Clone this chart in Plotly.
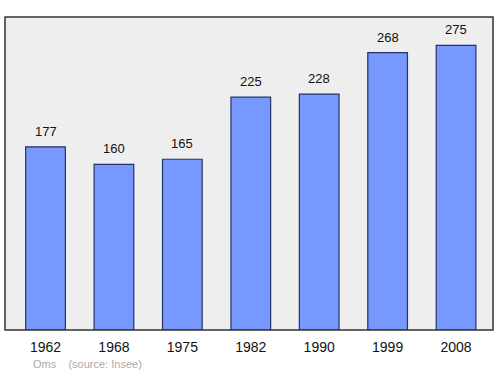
import plotly.graph_objects as go

years = ["1962", "1968", "1975", "1982", "1990", "1999", "2008"]
population = [177, 160, 165, 225, 228, 268, 275]
footer = "Oms    (source: Insee)"

xpos = list(range(len(years)))

fig = go.Figure()
fig.add_trace(go.Bar(
    x=xpos, y=population, width=0.58,
    marker=dict(color="#7799ff", line=dict(color="#223366", width=1.2)),
    hoverinfo="skip",
))
for xi, v in zip(xpos, population):
    fig.add_annotation(x=xi, y=v, text=str(v), showarrow=False, yanchor="bottom",
                       yshift=6, font=dict(family="Liberation Sans, Arial", size=13, color="#111"))

fig.add_annotation(xref="paper", yref="paper", x=0.053, y=-0.083, xanchor="left", yanchor="top",
                   text=footer, showarrow=False,
                   font=dict(family="Liberation Sans, Arial", size=11, color="#aaaaaa"))

fig.update_layout(
    width=500, height=374,
    margin=dict(l=5, r=7, t=17, b=44),
    paper_bgcolor="white", plot_bgcolor="#eeeeee",
    showlegend=False,
    xaxis=dict(range=[-0.592, 6.54], tickmode="array", tickvals=xpos, ticktext=years,
               showgrid=False, zeroline=False, ticks="outside", ticklen=4,
               tickcolor="rgba(0,0,0,0)",
               tickfont=dict(family="Liberation Sans, Arial", size=14, color="#111")),
    yaxis=dict(range=[0, 302.5], showgrid=False, zeroline=False, showticklabels=False, ticks=""),
    shapes=[dict(type="rect", xref="paper", yref="paper", x0=0, y0=0, x1=1, y1=1,
                 line=dict(color="#333333", width=1.5))],
)

fig.write_html("out.html")
